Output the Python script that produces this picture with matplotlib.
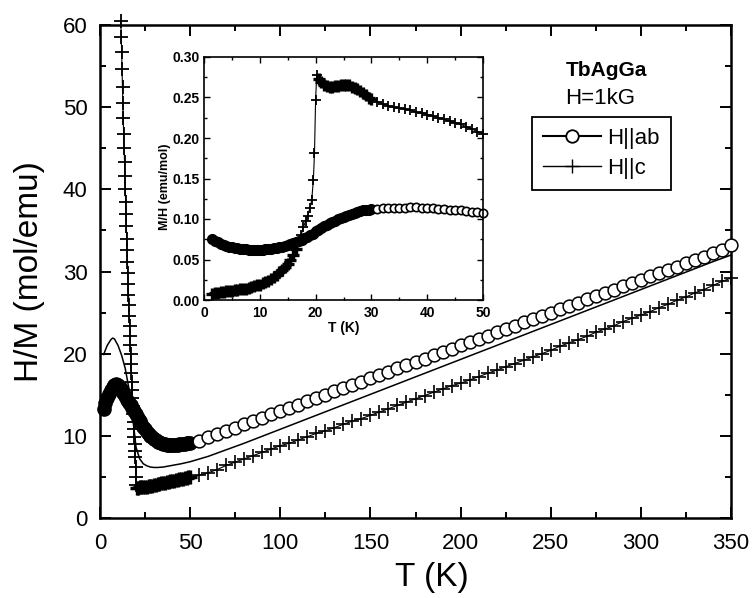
import numpy as np
import matplotlib
matplotlib.use("Agg")
import matplotlib.pyplot as plt
from matplotlib.lines import Line2D
from matplotlib.ticker import MultipleLocator, FormatStrFormatter

plt.rcParams['font.family'] = ['Liberation Sans', 'DejaVu Sans']

# ---- main panel: H/M vs T ----
# H||ab, dense low-T part (filled-looking) and open circles above 50 K
T_ab_low = [2, 3, 4, 5, 6, 7, 8, 9, 10, 11, 12, 13, 14, 15, 16, 17, 18, 19, 20,
            21, 22, 23, 24, 25, 26, 27, 28, 29, 30, 31, 32, 33, 34, 35, 36, 37,
            38, 39, 40, 41, 42, 43, 44, 45, 46, 47, 48, 49, 50]
HM_ab_low = [13.3, 14.0, 14.6, 15.1, 15.6, 15.9, 16.2, 16.3, 16.2, 16.0, 15.6,
             15.2, 14.8, 14.4, 14.0, 13.7, 13.4, 13.0, 12.6, 12.2, 11.8, 11.4,
             11.1, 10.8, 10.5, 10.2, 10.0, 9.8, 9.6, 9.45, 9.3, 9.2, 9.1, 9.0,
             8.95, 8.92, 8.9, 8.9, 8.9, 8.9, 8.92, 8.94, 8.95, 8.98, 9.0, 9.05,
             9.1, 9.12, 9.15]
T_ab_high = [55, 60, 65, 70, 75, 80, 85, 90, 95, 100, 105, 110, 115, 120, 125,
             130, 135, 140, 145, 150, 155, 160, 165, 170, 175, 180, 185, 190,
             195, 200, 205, 210, 215, 220, 225, 230, 235, 240, 245, 250, 255,
             260, 265, 270, 275, 280, 285, 290, 295, 300, 305, 310, 315, 320,
             325, 330, 335, 340, 345, 350]
HM_ab_high = [9.4, 9.8, 10.2, 10.6, 11.0, 11.4, 11.8, 12.2, 12.6, 13.0, 13.4,
              13.8, 14.2, 14.6, 15.0, 15.4, 15.8, 16.2, 16.6, 17.0, 17.4, 17.8,
              18.2, 18.6, 19.0, 19.4, 19.8, 20.2, 20.6, 21.0, 21.4, 21.8, 22.2,
              22.6, 23.0, 23.4, 23.8, 24.2, 24.6, 25.0, 25.4, 25.8, 26.2, 26.6,
              27.0, 27.4, 27.8, 28.2, 28.6, 29.0, 29.4, 29.8, 30.2, 30.6, 31.0,
              31.4, 31.8, 32.2, 32.6, 33.2]

# H||c: steep drop near the transition
T_c_drop = [11.5, 11.8, 12.0, 12.2, 12.5, 12.7, 12.9, 13.1, 13.4, 13.6, 13.8,
            14.0, 14.2, 14.4, 14.6, 14.8, 15.0, 15.2, 15.4, 15.6, 15.8, 16.0,
            16.2, 16.4, 16.6, 16.8, 17.0, 17.2, 17.4, 17.6, 17.8, 18.0, 18.2,
            18.4, 18.6, 18.8, 19.0, 19.2, 19.4, 19.6, 19.8, 20.0, 20.2]
HM_c_drop = [60.5, 58.5, 56.7, 54.6, 52.5, 50.5, 48.7, 46.7, 45.0, 43.3, 41.6,
             40.0, 38.5, 37.0, 35.5, 34.0, 32.6, 31.2, 29.8, 28.5, 27.2, 25.9,
             24.6, 23.4, 22.2, 21.0, 19.9, 18.8, 17.7, 16.6, 15.6, 14.6, 13.6,
             12.6, 11.7, 10.8, 9.9, 9.0, 8.2, 7.4, 6.2, 5.0, 4.0]
# H||c: dense band 20-50 K
T_c_band = [20.5, 21, 22, 23, 24, 25, 26, 27, 28, 29, 30, 31, 32, 33, 34, 35,
            36, 37, 38, 39, 40, 41, 42, 43, 44, 45, 46, 47, 48, 49, 50]
HM_c_band = [3.7, 3.7, 3.8, 3.8, 3.8, 3.8, 3.8, 3.85, 3.9, 3.95, 4.0, 4.05, 4.1,
             4.15, 4.2, 4.25, 4.3, 4.35, 4.4, 4.45, 4.5, 4.55, 4.6, 4.65, 4.7,
             4.75, 4.8, 4.85, 4.9, 4.95, 5.0]
T_c_high = [55, 60, 65, 70, 75, 80, 85, 90, 95, 100, 105, 110, 115, 120, 125,
            130, 135, 140, 145, 150, 155, 160, 165, 170, 175, 180, 185, 190,
            195, 200, 205, 210, 215, 220, 225, 230, 235, 240, 245, 250, 255,
            260, 265, 270, 275, 280, 285, 290, 295, 300, 305, 310, 315, 320,
            325, 330, 335, 340, 345, 350]
HM_c_high = [5.2, 5.5, 5.9, 6.4, 6.8, 7.2, 7.6, 8.0, 8.4, 8.8, 9.1, 9.5, 9.9,
             10.3, 10.6, 11.0, 11.4, 11.8, 12.1, 12.5, 12.9, 13.3, 13.7, 14.1,
             14.5, 14.9, 15.3, 15.7, 16.1, 16.4, 16.8, 17.2, 17.6, 18.0, 18.4,
             18.8, 19.2, 19.6, 20.0, 20.4, 20.9, 21.3, 21.7, 22.1, 22.6, 23.0,
             23.4, 23.9, 24.3, 24.7, 25.1, 25.6, 26.0, 26.5, 26.9, 27.4, 27.8,
             28.3, 28.8, 29.2]

# thin solid curve (no markers)
T_avg = [2, 4, 6, 7, 8, 10, 12, 14, 16, 18, 20, 22, 24, 26, 28, 30, 32, 35,
         40, 45, 50, 60, 80, 100, 120, 140, 160, 180, 200, 220, 240, 260, 280,
         300, 320, 340, 350]
HM_avg = [19.9, 21.0, 21.7, 21.9, 21.8, 21.0, 19.8, 18.2, 15.8, 12.5, 8.6, 7.2,
          6.6, 6.35, 6.2, 6.15, 6.15, 6.2, 6.4, 6.6, 6.85, 7.5, 9.1, 10.8, 12.5,
          14.2, 15.9, 17.6, 19.3, 21.0, 22.7, 24.4, 26.1, 27.8, 29.5, 31.2, 32.0]

# ---- inset: M/H vs T ----
T_in_ab = [1.5, 2.0, 2.5, 3.0, 3.5, 4.0, 4.5, 5.0, 5.5, 6.0, 6.5, 7.0, 7.5, 8.0,
           8.5, 9.0, 9.5, 10.0, 10.5, 11.0, 11.5, 12.0, 12.5, 13.0, 13.5, 14.0,
           14.5, 15.0, 15.5, 16.0, 16.5, 17.0, 17.5, 18.0, 18.5, 19.0, 19.5,
           20.0, 20.5, 21.0, 21.5, 22.0, 22.5, 23.0, 23.5, 24.0, 24.5, 25.0,
           25.5, 26.0, 26.5, 27.0, 27.5, 28.0, 28.5, 29.0, 29.5, 30.0, 31, 32,
           33, 34, 35, 36, 37, 38, 39, 40, 41, 42, 43, 44, 45, 46, 47, 48, 49, 50]
MH_in_ab = [0.075, 0.073, 0.071, 0.069, 0.068, 0.067, 0.066, 0.065, 0.0645,
            0.064, 0.0635, 0.063, 0.0625, 0.062, 0.062, 0.062, 0.062, 0.062,
            0.0622, 0.0625, 0.063, 0.0633, 0.0637, 0.064, 0.065, 0.066, 0.067,
            0.068, 0.069, 0.070, 0.0715, 0.073, 0.0745, 0.076, 0.078, 0.080,
            0.082, 0.085, 0.087, 0.089, 0.091, 0.093, 0.0945, 0.096, 0.098,
            0.0995, 0.101, 0.102, 0.1035, 0.105, 0.106, 0.1075, 0.1085, 0.1095,
            0.1105, 0.111, 0.1115, 0.112, 0.1125, 0.113, 0.1132, 0.1135, 0.1138,
            0.114, 0.1143, 0.1142, 0.114, 0.1135, 0.113, 0.1125, 0.112, 0.1115,
            0.111, 0.1105, 0.110, 0.109, 0.1085, 0.108]
T_in_c = [1.5, 2.0, 2.5, 3.0, 3.5, 4.0, 4.5, 5.0, 5.5, 6.0, 6.5, 7.0, 7.5, 8.0,
          8.5, 9.0, 9.5, 10.0, 10.5, 11.0, 11.5, 12.0, 12.5, 13.0, 13.5, 14.0,
          14.5, 15.0, 15.5, 16.0, 16.5, 17.0, 17.4, 17.8, 18.2, 18.6, 19.0,
          19.3, 19.6, 19.8, 20.0, 20.2, 20.6, 21.0, 21.5, 22.0, 22.5, 23.0,
          23.5, 24.0, 24.5, 25.0, 25.5, 26.0, 26.5, 27.0, 27.5, 28.0, 28.5,
          29.0, 29.5, 30.0, 31, 32, 33, 34, 35, 36, 37, 38, 39, 40, 41, 42, 43,
          44, 45, 46, 47, 48, 49, 50]
MH_in_c = [0.008, 0.0085, 0.009, 0.0095, 0.010, 0.0105, 0.011, 0.0115, 0.012,
           0.0125, 0.013, 0.0135, 0.014, 0.015, 0.016, 0.017, 0.018, 0.019,
           0.0205, 0.022, 0.024, 0.026, 0.028, 0.031, 0.034, 0.037, 0.041,
           0.045, 0.050, 0.056, 0.063, 0.071, 0.080, 0.090, 0.097, 0.104, 0.114,
           0.123, 0.148, 0.181, 0.247, 0.278, 0.273, 0.269, 0.266, 0.264,
           0.2635, 0.2635, 0.264, 0.2645, 0.265, 0.2655, 0.2655, 0.265, 0.2635,
           0.262, 0.260, 0.258, 0.256, 0.253, 0.250, 0.248, 0.245, 0.242, 0.240,
           0.238, 0.237, 0.2355, 0.234, 0.232, 0.2305, 0.229, 0.227, 0.225,
           0.223, 0.221, 0.219, 0.217, 0.214, 0.211, 0.208, 0.205]

fig = plt.figure(figsize=(7.52, 5.98), dpi=100)
fig.patch.set_facecolor('white')
ax = fig.add_axes([100 / 752, 80 / 598, 631 / 752, 493 / 598])

# H||ab: dense low-T circles overlap into a solid band
ax.plot(T_ab_low, HM_ab_low, '-', color='black', lw=0.8, marker='o', ms=9.5,
        mfc='black', mec='black', mew=1.0, clip_on=False, zorder=3)
ax.plot([T_ab_low[-1]] + T_ab_high, [HM_ab_low[-1]] + HM_ab_high, '-',
        color='black', lw=0.8, marker='o', ms=9.2, mfc='white', mec='black',
        mew=1.1, markevery=list(range(1, len(T_ab_high) + 1)),
        clip_on=False, zorder=3)

# H||c
T_c_all = T_c_drop + T_c_band + T_c_high
HM_c_all = HM_c_drop + HM_c_band + HM_c_high
ax.plot(T_c_all, HM_c_all, '-', color='black', lw=0.8, clip_on=False, zorder=3)
ax.plot(T_c_drop, HM_c_drop, linestyle='none', marker='+', ms=10.5, mew=1.3,
        color='black', clip_on=False, zorder=3)
ax.plot(T_c_band, HM_c_band, linestyle='none', marker='+', ms=10, mew=2.4,
        color='black', clip_on=False, zorder=3)
ax.plot(T_c_high, HM_c_high, linestyle='none', marker='+', ms=9.5, mew=1.2,
        color='black', clip_on=False, zorder=3)

ax.plot(T_avg, HM_avg, '-', color='black', lw=1.1, zorder=2)

ax.set_xlim(0, 350)
ax.set_ylim(0, 60)
ax.xaxis.set_major_locator(MultipleLocator(50))
ax.xaxis.set_minor_locator(MultipleLocator(25))
ax.yaxis.set_major_locator(MultipleLocator(10))
ax.yaxis.set_minor_locator(MultipleLocator(5))
ax.tick_params(which='both', direction='in', top=True, right=True,
               labelsize=16, width=1.4)
ax.tick_params(which='major', length=8)
ax.tick_params(which='minor', length=4)
ax.tick_params(axis='x', pad=11)
ax.tick_params(axis='y', pad=9)
for s in ax.spines.values():
    s.set_linewidth(1.8)

ax.set_xlabel('T (K)', fontsize=24)
ax.set_ylabel('H/M (mol/emu)', fontsize=24)
ax.xaxis.label.set_va('center')
ax.yaxis.label.set_va('center')
ax.xaxis.set_label_coords(0.526, -0.12)
ax.yaxis.set_label_coords(-0.111, 0.5)

handles = [Line2D([], [], color='black', lw=1.5, marker='o', ms=9,
                  mfc='white', mec='black', mew=1.3),
           Line2D([], [], color='black', lw=1.0, marker='+', ms=10, mew=1.0)]
leg = ax.legend(handles, ['H||ab', 'H||c'], loc='upper left',
                bbox_to_anchor=(532 / 752, 1 - 117 / 598),
                bbox_transform=fig.transFigure, fancybox=False,
                edgecolor='black', fontsize=16, handlelength=2.6,
                handletextpad=0.3, borderpad=0.5, labelspacing=0.4,
                borderaxespad=0, framealpha=1)
leg.get_frame().set_linewidth(1.3)

fig.text(606 / 752, 1 - 70 / 598, 'TbAgGa', ha='center', va='center',
         fontsize=15, fontweight='bold')
fig.text(600 / 752, 1 - 99 / 598, 'H=1kG', ha='center', va='center',
         fontsize=16)

# inset
ins = fig.add_axes([204 / 752, 298 / 598, 279 / 752, 243 / 598])
T_in_ab = np.array(T_in_ab)
MH_in_ab = np.array(MH_in_ab)
dense = T_in_ab <= 30
ins.plot(T_in_ab[dense], MH_in_ab[dense], linestyle='none', marker='o',
         ms=7, mfc='black', mec='black', mew=1.0, clip_on=False)
ins.plot(T_in_ab[~dense], MH_in_ab[~dense], linestyle='none', marker='o',
         ms=6, mfc='white', mec='black', mew=1.2, clip_on=False)
T_in_c = np.array(T_in_c)
MH_in_c = np.array(MH_in_c)
ins.plot(T_in_c, MH_in_c, '-', color='black', lw=0.8, clip_on=False)
packed = ((T_in_c < 17) | ((T_in_c > 20.3) & (T_in_c <= 30)))
ins.plot(T_in_c[packed], MH_in_c[packed], linestyle='none', marker='+',
         ms=8, mew=2.4, color='black', clip_on=False)
ins.plot(T_in_c[~packed], MH_in_c[~packed], linestyle='none', marker='+',
         ms=7, mew=1.3, color='black', clip_on=False)
ins.set_xlim(0, 50)
ins.set_ylim(0, 0.30)
ins.xaxis.set_major_locator(MultipleLocator(10))
ins.xaxis.set_minor_locator(MultipleLocator(5))
ins.yaxis.set_major_locator(MultipleLocator(0.05))
ins.yaxis.set_minor_locator(MultipleLocator(0.025))
ins.yaxis.set_major_formatter(FormatStrFormatter('%.2f'))
ins.tick_params(which='both', direction='in', top=True, right=True,
                labelsize=10, width=1.0)
ins.tick_params(which='major', length=4)
ins.tick_params(which='minor', length=2)
ins.tick_params(axis='x', pad=4)
ins.tick_params(axis='y', pad=3)
for lab in ins.get_xticklabels() + ins.get_yticklabels():
    lab.set_fontweight('bold')
for s in ins.spines.values():
    s.set_linewidth(1.2)
ins.set_xlabel('T (K)', fontsize=10, fontweight='bold')
ins.set_ylabel('M/H (emu/mol)', fontsize=9, fontweight='bold')
ins.xaxis.label.set_va('center')
ins.yaxis.label.set_va('center')
ins.xaxis.set_label_coords(0.5, -0.115)
ins.yaxis.set_label_coords(-0.14, 0.465)

fig.savefig('out.png', dpi=100, facecolor='white')
